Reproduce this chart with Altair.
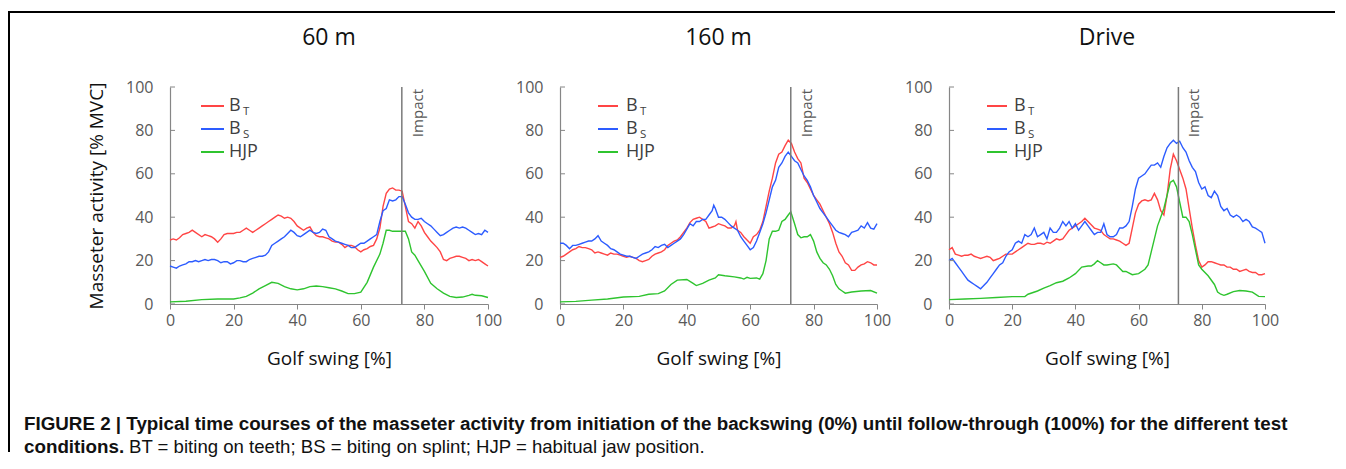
import altair as alt
import pandas as pd

SERIES = ["BT", "BS", "HJP"]
COLORS = ["#ff4545", "#2d5cff", "#2fc42f"]
PANELS = ["60 m", "160 m", "Drive"]
IMPACT = [72.9, 72.8, 72.6]
TICKS = [0, 20, 40, 60, 80, 100]

M60_BT = [[0,29.5],[1,30],[2,29.5],[3,30.5],[4,32],[5,32.5],[6,33],[7,34],[8,33],[10,31],[11,32],[12,31.5],[13,31],[14,30],[15,28.5],[16,30],[17,32],[18,32.5],[20,32.5],[21,33],[22,33],[23,34],[24,35],[25,34],[26,33],[27,34],[28,35],[29,36],[30,37],[31,38],[32,39],[33,40],[34,41],[35,40.5],[36,39.5],[37,40],[38,39.5],[39,38],[40,36],[41,35],[42,34],[43,35],[44,35.5],[45,33],[46,31.5],[47,31],[48,31],[49,30.5],[50,30],[51,29],[52,28.5],[53,28.5],[54,27.5],[55,26],[56,27],[57,27],[58,26.5],[59,25],[60,24],[61,25],[62,25.5],[63,26.5],[64,27],[65,30],[66,35],[67,45],[68,51],[69,53],[70,53.5],[71,52.5],[72,52.5],[73,52],[74,45],[75,38],[76,37],[77,35],[78,38],[79,36],[80,33],[81,31],[82,29],[83,27.5],[84,26],[85,24],[86,20.5],[87,20],[88,21],[89,21.5],[90,22],[91,22],[92,21.5],[93,21],[94,20],[95,20.5],[96,20],[97,20.5],[98,19.5],[99,18.5],[100,17.5]]
M60_BS = [[0,17.5],[1,17],[2,16.5],[3,17.5],[4,18],[5,18.5],[6,19.5],[7,19.5],[8,20],[9,19.5],[10,20],[11,20.5],[12,20],[13,20.5],[14,20.5],[15,20],[16,19],[17,19.5],[18,19.5],[19,18.5],[20,19],[21,20],[22,20],[23,19.5],[24,19.5],[25,20.5],[26,21],[27,21.5],[28,22],[29,22],[30,22.5],[31,24],[32,27],[33,28],[34,29],[35,30],[36,31],[37,32.5],[38,34],[39,33],[40,31.5],[41,31],[42,32],[43,33],[44,34],[45,33],[46,32.5],[47,33],[48,34.5],[49,34],[50,31],[51,30],[52,29],[53,28.5],[54,28],[55,27.5],[56,27],[57,26],[58,26],[59,27],[60,28],[61,28],[62,29],[63,30],[64,31],[65,32],[66,38],[67,43],[68,44],[69,48],[70,47.5],[71,48],[72,49.5],[73,49.5],[74,46],[75,42],[76,40],[77,39],[78,39],[79,39.5],[80,38],[81,37],[82,36],[83,34.5],[84,33],[85,31.5],[86,32],[87,33],[88,34],[89,35],[90,35.5],[91,35],[92,35.5],[93,35],[94,34],[95,33],[96,32],[97,32.5],[98,32],[99,34],[100,33]]
M60_HJP = [[0,1],[5,1.3],[10,2],[15,2.3],[20,2.3],[22,2.8],[24,3.5],[26,5],[28,7],[30,8.5],[32,10],[34,9.5],[36,8],[38,7],[40,6.5],[42,7],[44,8],[46,8.3],[48,8],[50,7.5],[52,7],[54,6],[56,4.8],[58,4.8],[60,5.5],[62,10],[64,17],[66,23],[67,28],[68,34],[69,34],[70,33.5],[72,33.5],[74,33.5],[75,30],[76,24],[77,22.5],[78,20],[80,15],[82,9.5],[84,7],[86,5],[88,3.5],[90,3],[92,3.2],[94,4],[95,4.5],[96,4],[98,3.8],[100,3]]

M160_BT = [[0,21.5],[1,22],[2,23],[3,24],[4,25],[5,25.5],[6,26.5],[7,26],[8,26],[9,25.5],[10,25],[11,23.5],[12,24],[13,23.5],[14,23],[15,22.5],[16,23.5],[17,23],[18,23],[19,22.5],[20,22],[21,21.5],[22,22],[23,21.5],[24,21],[25,20],[26,19.5],[27,20],[28,20.5],[29,22],[30,23],[31,23.5],[32,24],[33,25],[34,27],[35,28],[36,29],[37,29.5],[38,31],[39,33],[40,35],[41,37.5],[42,39],[43,39.5],[44,40],[45,39],[46,38],[47,35],[48,35.5],[49,36],[50,37],[51,36.5],[52,36],[53,35],[54,35],[55,36],[55.5,38],[56,34],[57,33],[58,31],[59,29.5],[60,28],[61,31],[62,32],[63,34],[64,38],[65,45],[66,52],[67,58],[68,65],[69,69],[70,70],[71,73],[72,75.5],[73,74],[74,70],[75,67],[76,65],[77,58],[78,56],[79,53],[80,50],[81,48],[82,46],[83,43],[84,40],[85,37],[86,33],[87,28],[88,24],[89,22],[90,19],[91,18],[92,15.5],[93,15.5],[94,17],[95,18],[96,18.5],[97,19.5],[98,19],[99,18],[100,18]]
M160_BS = [[0,28],[1,28],[2,27],[3,25.5],[4,27],[5,27],[6,27.5],[7,28],[8,28.5],[9,29],[10,29],[11,30],[12,31.5],[13,29],[14,28],[15,27],[16,25.5],[17,25],[18,24],[19,23],[20,22.5],[21,22],[22,22],[23,21.5],[24,21],[25,22],[26,23],[27,23.5],[28,24],[29,25],[30,26.5],[31,26],[32,27],[33,27.5],[34,26],[35,27],[36,28],[37,29],[38,30],[39,32],[40,34.5],[41,37],[42,36],[43,38],[44,38],[45,39],[46,39],[47,41],[48,43],[48.5,45.5],[49,44],[50,40],[51,40],[52,39],[53,37.5],[54,36],[55,35],[56,34],[57,31],[58,29],[59,27],[60,25],[61,26],[62,29],[63,33],[64,37],[65,42],[66,48],[67,54],[68,57],[69,63],[70,65],[71,68],[72,70],[73,68],[74,66],[75,65],[76,62],[77,59],[78,57],[79,54],[80,50],[81,47],[82,44],[83,42],[84,40],[85,38],[86,36],[87,34],[88,33],[89,32.5],[90,32],[91,31],[92,33],[93,33.5],[94,34],[95,36],[96,35],[97,37.5],[98,35],[99,34.5],[100,37]]
M160_HJP = [[0,1],[5,1.2],[10,1.8],[15,2.3],[20,3.2],[25,3.5],[28,4.5],[31,4.8],[33,6],[35,9],[37,11],[40,11.3],[42,9.5],[43,8.5],[45,9.5],[47,11],[49,12],[50,13.5],[52,13],[55,12.5],[57,12],[58,11.5],[59,12.3],[60,11.8],[62,12],[63,11.5],[64,14],[65,20],[66,30],[67,33.5],[68,33.5],[69,34],[70,38],[71,39],[72,41],[72.8,42.5],[74,37],[75,32],[76,30.5],[77,31],[78,31],[79,32],[80,29],[81,24],[82,21],[83,19],[84,18],[85,16],[86,13],[87,9],[88,7],[89,6],[90,5],[92,5.5],[95,6],[98,6.2],[100,5]]

MDR_BT = [[0,25],[1,26],[2,23],[3,22.5],[4,22],[5,22.5],[6,22.5],[7,23],[8,22],[9,21.5],[10,21],[11,21.5],[12,22],[13,21.5],[14,20],[15,20.5],[16,21],[17,22],[18,23],[19,23],[20,23],[21,24],[22,25],[23,26],[24,27],[25,28],[26,27.5],[27,27.5],[28,28],[29,28],[30,27.5],[31,28.5],[32,28],[33,29],[34,30],[35,29.5],[36,30],[37,32],[38,34],[39,35],[40,36],[41,37],[42,38],[43,39.5],[44,38],[45,36.5],[46,35],[47,34.5],[48,34],[49,32],[50,31],[51,30],[52,30],[53,29.5],[54,29],[55,28],[56,27],[57,28],[58,35],[59,42],[60,46],[61,47.5],[62,48],[63,47.5],[64,48],[65,51],[66,48],[67,43],[68,41],[69,50],[70,62],[71,69],[72,66],[73,62],[74,58],[75,53],[76,44],[77,35],[78,27],[79,20],[80,17],[81,18],[82,19.5],[83,19.5],[84,19],[85,18.5],[86,18],[87,18],[88,17],[89,17],[90,16],[91,16],[92,15],[93,15.5],[94,16],[95,15],[96,14.5],[97,14.5],[98,13.5],[99,13.5],[100,14]]
MDR_BS = [[0,20],[1,21],[2,19],[3,17],[4,15],[5,13],[6,11],[7,10],[8,9],[9,8],[10,7],[11,8.5],[12,10],[13,12],[14,14],[15,16],[16,18],[17,19],[18,22],[19,24],[20,25],[21,28],[22,29],[23,28],[24,32],[25,31],[26,32],[27,35],[28,31],[29,32],[30,33],[31,30],[32,35],[33,33],[34,33],[35,35],[36,38],[37,36],[38,38],[39,35],[40,37],[41,34],[42,36],[43,38],[44,36],[45,34],[46,32],[47,33],[48,33],[49,37],[50,32],[51,31],[52,31],[53,32],[54,35],[55,35],[56,36],[57,38],[58,45],[59,53],[60,58],[61,59],[62,60],[63,62],[64,64],[65,64],[66,65],[67,63],[68,68],[69,72],[70,74],[71,75.5],[72,74],[73,75],[74,72],[75,70],[76,66],[77,63],[78,61],[79,56],[80,53],[81,54],[82,50],[83,49],[84,52],[85,50],[86,45],[87,43],[88,44],[89,41],[90,40],[91,41],[92,40],[93,38],[94,39],[95,38],[96,35.5],[97,35],[98,34],[99,33],[100,28]]
MDR_HJP = [[0,2],[5,2.3],[10,2.6],[15,3],[20,3.4],[24,3.4],[25,4.5],[28,6],[30,7.3],[32,8.5],[34,9.8],[36,10.5],[38,12],[40,14],[42,17],[44,17.5],[45,17.5],[46,18.5],[47,20],[48,19],[49,18],[50,18],[52,18.5],[53,18],[54,16.5],[55,15],[56,15],[58,13.5],[60,14],[62,16],[63,18],[64,24],[65,30],[66,36],[67,40],[68,44],[69,50],[70,56],[71,57],[72,54],[73,47],[74,40],[75,40],[76,38],[77,32],[78,25],[79,18],[80,16],[82,13],[84,9],[85,5.5],[86,4.5],[87,4],[88,4.5],[90,5.7],[92,6.2],[94,6],[96,5.5],[98,3.5],[100,3.4]]

DATA = [[M60_BT, M60_BS, M60_HJP], [M160_BT, M160_BS, M160_HJP], [MDR_BT, MDR_BS, MDR_HJP]]

LEGEND_MAIN = ["B", "B", "HJP"]
LEGEND_SUB = ["T", "S", ""]

X_TITLE = "Golf swing [%]"
Y_TITLE = "Masseter activity [% MVC]"
CAPTION_1 = "FIGURE 2 | Typical time courses of the masseter activity from initiation of the backswing (0%) until follow-through (100%) for the different test"
CAPTION_2A = "conditions."
CAPTION_2B = "BT = biting on teeth; BS = biting on splint; HJP = habitual jaw position."

AXIS_GRAY = "#868686"
LABEL_GRAY = "#595959"
FONT = "Open Sans"
WIDTHS = [318, 317, 316]
HEIGHT = 217
LEG_X = [(31, 54, 59), (38, 58, 66), (38, 58, 65)]
LEG_Y = [19, 42, 65]

one = pd.DataFrame({"k": [0]})


def make_panel(idx):
    w = WIDTHS[idx]
    rows = []
    for s_i, s in enumerate(SERIES):
        for x, v in DATA[idx][s_i]:
            rows.append({"x": x, "v": v, "series": s})
    df = pd.DataFrame(rows)
    xs = alt.Scale(domain=[0, 100], nice=False, zero=False)
    ys = alt.Scale(domain=[0, 100], nice=False)
    xaxis = alt.Axis(values=TICKS, title=X_TITLE, grid=False, tickSize=5, labelPadding=3,
                     titlePadding=21, labelFlush=False, labelOverlap=False)
    yaxis = alt.Axis(values=TICKS, title=Y_TITLE if idx == 0 else "", grid=False, ticks=False,
                     labelPadding=17, titlePadding=19, labelFlush=False, labelOverlap=False)

    lines = alt.Chart(df).mark_line(strokeWidth=1.4).encode(
        x=alt.X("x:Q", scale=xs, axis=xaxis),
        y=alt.Y("v:Q", scale=ys, axis=yaxis),
        color=alt.Color("series:N", scale=alt.Scale(domain=SERIES, range=COLORS), legend=None),
    )
    yt = alt.Chart(pd.DataFrame({"t": TICKS})).mark_rule(color=AXIS_GRAY, strokeWidth=1).encode(
        y=alt.Y("t:Q", scale=ys, axis=yaxis), x=alt.value(0), x2=alt.value(5)
    )
    imp_df = pd.DataFrame({"x": [IMPACT[idx]], "label": ["Impact"]})
    rule = alt.Chart(imp_df).mark_rule(color="#7a7a7a", strokeWidth=1.5).encode(
        x=alt.X("x:Q", scale=xs, axis=xaxis)
    )
    imp_text = alt.Chart(imp_df).mark_text(
        angle=270, align="right", baseline="alphabetic", dx=-2, dy=21,
        fontSize=15, color=LABEL_GRAY, font=FONT
    ).encode(x=alt.X("x:Q", scale=xs, axis=xaxis), y=alt.value(0), text="label:N")

    layers = [lines, yt, rule, imp_text]
    lx1, lx2, tx = LEG_X[idx]
    for i in range(3):
        layers.append(alt.Chart(one).mark_rule(color=COLORS[i], strokeWidth=2).encode(
            x=alt.value(lx1), x2=alt.value(lx2), y=alt.value(LEG_Y[i])))
        layers.append(alt.Chart(one).mark_text(
            align="left", baseline="middle", fontSize=18, color="#404040", font=FONT
        ).encode(x=alt.value(tx), y=alt.value(LEG_Y[i]), text=alt.value(LEGEND_MAIN[i])))
        if LEGEND_SUB[i]:
            layers.append(alt.Chart(one).mark_text(
                align="left", baseline="middle", fontSize=11.5, color="#404040", font=FONT
            ).encode(x=alt.value(tx + 14), y=alt.value(LEG_Y[i] + 6), text=alt.value(LEGEND_SUB[i])))
    layers.append(alt.Chart(one).mark_text(
        align="center", baseline="middle", fontSize=23, color="#111111", font=FONT
    ).encode(x=alt.value(w / 2), y=alt.value(-49), text=alt.value(PANELS[idx])))

    if idx == 0:
        layers.append(alt.Chart(one).mark_rule(color="#000000", strokeWidth=2).encode(
            x=alt.value(-161), x2=alt.value(1165), y=alt.value(-75)))
        layers.append(alt.Chart(one).mark_rule(color="#000000", strokeWidth=2).encode(
            x=alt.value(-161), y=alt.value(-76), y2=alt.value(365)))
        layers.append(alt.Chart(one).mark_text(
            align="left", baseline="middle", fontSize=18.8, fontWeight="bold",
            color="#111111", font="Liberation Sans"
        ).encode(x=alt.value(-146), y=alt.value(337), text=alt.value(CAPTION_1)))
        layers.append(alt.Chart(one).mark_text(
            align="left", baseline="middle", fontSize=18.8, fontWeight="bold",
            color="#111111", font="Liberation Sans"
        ).encode(x=alt.value(-146), y=alt.value(360), text=alt.value(CAPTION_2A)))
        layers.append(alt.Chart(one).mark_text(
            align="left", baseline="middle", fontSize=18.6,
            color="#111111", font="Liberation Sans"
        ).encode(x=alt.value(-41), y=alt.value(360), text=alt.value(CAPTION_2B)))

    return alt.layer(*layers).properties(width=w, height=HEIGHT)


chart = alt.hconcat(*[make_panel(i) for i in range(3)], spacing=72, bounds="flush").properties(
    padding={"left": 0, "top": 2, "right": 0, "bottom": 0}
).configure_view(stroke=None).configure_axis(
    domainColor=AXIS_GRAY, tickColor=AXIS_GRAY, labelColor=LABEL_GRAY, labelFontSize=16,
    labelFont=FONT, titleFont=FONT, titleFontSize=19, titleFontWeight="normal",
    titleColor="#111111", domainWidth=1.2
)

chart.save("out.html", embed_options={"renderer": "svg", "actions": False})
